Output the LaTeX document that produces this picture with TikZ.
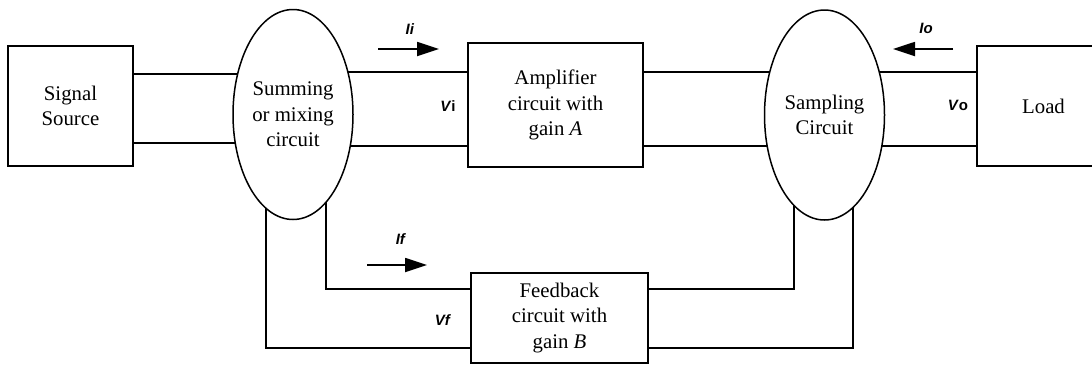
\documentclass[tikz,border=0pt]{standalone}
\usepackage{fontspec}
\setmainfont{Liberation Serif}
\setsansfont{Liberation Sans}
\usepackage{tikz}
\usetikzlibrary{arrows.meta,positioning,calc,shapes.geometric,backgrounds}
\tikzset{
  blk/.style={draw=black,line width=0.85pt,align=center,fill=white,inner sep=1pt},
  mixer/.style={ellipse,draw=black,line width=0.75pt,align=center,fill=white,inner sep=0pt,minimum width=60pt,minimum height=105pt},
  wire/.style={line width=0.85pt,draw=black},
  curarrow/.style={-{Triangle[length=11pt,width=7pt]},line width=0.9pt,draw=black},
  lbl/.style={font=\sffamily\bfseries\fontsize{7.5}{8.5}\selectfont,inner sep=0pt}
}

\begin{document}
\begin{tikzpicture}[x=0.5pt,y=-0.5pt,font=\fontsize{10.4}{12.8}\selectfont]
    \useasboundingbox (0,0) rectangle (1092,365);
    \clip (0,0) rectangle (1092,365);
    \node[blk,minimum width=62.5pt,minimum height=60pt] (src) at (70.5,106) {Signal\\Source};
    \node[mixer] (sum) at (293,114.5) {Summing\\or mixing\\circuit};
    \node[blk,minimum width=87.5pt,minimum height=62pt] (amp) at (555.5,105) {Amplifier\\circuit with\\gain \textit{A}};
    \node[mixer] (smp) at (824.5,115) {Sampling\\Circuit};
    \node[blk,minimum width=66.5pt,minimum height=60pt] (load) at (1043.5,106) {Load};
    \node[blk,minimum width=88.5pt,minimum height=45pt] (fb) at (559.5,318) {Feedback\\circuit with\\gain \textit{B}};
    \coordinate (top1) at (0,74);
    \coordinate (bot1) at (0,143);
    \coordinate (top) at (0,72);
    \coordinate (bot) at (0,146);
    \coordinate (fbtop) at (0,289);
    \coordinate (fbbot) at (0,348);
    \begin{scope}[on background layer]
      \draw[wire] (src.east |- top1) -- (sum.center |- top1);
      \draw[wire] (src.east |- bot1) -- (sum.center |- bot1);
      \draw[wire] (sum.center |- top) -- (amp.west |- top);
      \draw[wire] (sum.center |- bot) -- (amp.west |- bot);
      \draw[wire] (amp.east |- top) -- (smp.center |- top);
      \draw[wire] (amp.east |- bot) -- (smp.center |- bot);
      \draw[wire] (smp.center |- top) -- (load.west |- top);
      \draw[wire] (smp.center |- bot) -- (load.west |- bot);
      % feedback loop
      \draw[wire] (fb.west |- fbtop) -| ($(sum.center)+(33,0)$);
      \draw[wire] (fb.west |- fbbot) -| ($(sum.center)+(-27,0)$);
      \draw[wire] (fb.east |- fbtop) -| ($(smp.center)+(-30.5,0)$);
      \draw[wire] (fb.east |- fbbot) -| ($(smp.center)+(28.5,0)$);
    \end{scope}
    % current directions
    \coordinate (ii0) at (378,49);
    \coordinate (ii1) at (439,49);
    \coordinate (io0) at (953,49);
    \coordinate (io1) at (893,49);
    \coordinate (if0) at (367,265);
    \coordinate (if1) at (427,265);
    \draw[curarrow] (ii0) -- (ii1);
    \draw[curarrow] (io0) -- (io1);
    \draw[curarrow] (if0) -- (if1);
    \node[lbl] (lii) at (410,29) {\textit{Ii}};
    \node[lbl] (lvi) at (448,106) {\textit{V}i};
    \node[lbl] (lvo) at (958,105) {\textit{V}o};
    \node[lbl] (lio) at (926,28) {\textit{Io}};
    \node[lbl] (lif) at (401,239) {\textit{If}};
    \node[lbl] (lvf) at (443,320) {\textit{Vf}};
  \end{tikzpicture}
\end{document}
